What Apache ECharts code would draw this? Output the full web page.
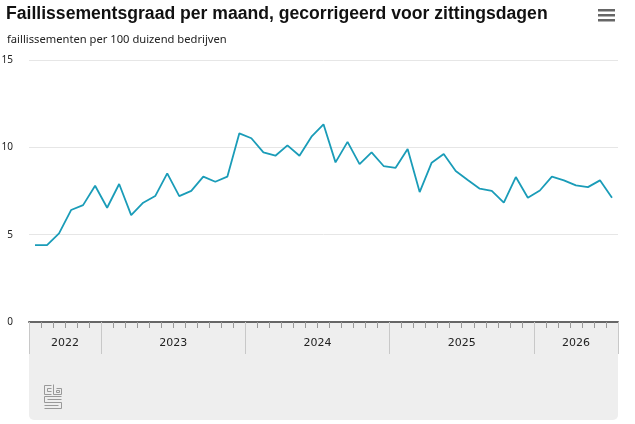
<!DOCTYPE html>
<html>
<head>
	<meta charset="utf-8">
	<title>Faillissementsgraad</title>
	<script src="https://cdn.jsdelivr.net/npm/echarts@6/dist/echarts.min.js"></script>
	<style>
		html, body { margin: 0; padding: 0; background: #fff; }
	</style>
</head>
<body>
	<div id="container" style="width: 635px;height:424px;"></div>
	<script type="text/javascript">

	// maanden jul 2022 t/m jul 2026
	var jaren = ['2022', '2023', '2024', '2025', '2026'];
	var maandenPerJaar = [6, 12, 12, 12, 7];
	var maandNamen = ['jan', 'feb', 'mrt', 'apr', 'mei', 'jun', 'jul', 'aug', 'sep', 'okt', 'nov', 'dec'];
	var graad = [
		4.40, 4.40, 5.07, 6.41, 6.69, 7.80,
		6.54, 7.90, 6.12, 6.83, 7.21, 8.51, 7.21, 7.51, 8.32, 8.03, 8.32, 10.80,
		10.52, 9.71, 9.52, 10.11, 9.52, 10.61, 11.32, 9.14, 10.31, 9.04, 9.71, 8.93,
		8.83, 9.90, 7.44, 9.12, 9.62, 8.64, 8.13, 7.63, 7.51, 6.83, 8.30, 7.11,
		7.53, 8.32, 8.11, 7.82, 7.72, 8.11, 7.11
	];

	var maanden = [];
	var grenzen = [0];
	var midden = [];
	var teller = 0;
	for (var j = 0; j < jaren.length; j++) {
		var start = (j == 0) ? 12 - maandenPerJaar[j] : 0;
		for (var m = 0; m < maandenPerJaar[j]; m++) {
			maanden.push(jaren[j] + ' ' + maandNamen[start + m]);
		}
		midden.push(teller + maandenPerJaar[j] / 2);
		teller += maandenPerJaar[j];
		grenzen.push(teller);
	}

	var myChart = echarts.init(document.getElementById('container'));
	myChart.setOption({
		animation: false,
		title: [
			{
				text: 'Faillissementsgraad per maand, gecorrigeerd voor zittingsdagen',
				left: 1,
				top: 0,
				textStyle: { fontSize: 17.6, fontWeight: 'bold', color: '#111', fontFamily: 'Liberation Sans' }
			},
			{
				text: 'faillissementen per 100 duizend bedrijven',
				left: 2,
				top: 29,
				textStyle: { fontSize: 11.2, fontWeight: 'normal', color: '#222', fontFamily: 'Noto Sans' }
			}
		],
		graphic: [
			{
				type: 'rect', z: -10,
				shape: { x: 29, y: 322, width: 589, height: 98, r: [0, 0, 5, 5] },
				style: { fill: '#eeeeee' }
			},
			{ type: 'rect', shape: { x: 598, y: 9, width: 17, height: 2.5 }, style: { fill: '#666' } },
			{ type: 'rect', shape: { x: 598, y: 14, width: 17, height: 2.5 }, style: { fill: '#666' } },
			{ type: 'rect', shape: { x: 598, y: 19, width: 17, height: 2.5 }, style: { fill: '#666' } },
			// cbs-logo, vereenvoudigd
			{
				type: 'group', left: 42, top: 382,
				children: [
					{ type: 'polyline', shape: { points: [[7, 1], [0, 1], [0, 10], [7, 10]] }, style: { stroke: '#999', fill: null, lineWidth: 1 } },
					{ type: 'polyline', shape: { points: [[7, 4], [3, 4], [3, 7], [7, 7]] }, style: { stroke: '#999', fill: null, lineWidth: 1 } },
					{ type: 'polyline', shape: { points: [[9, 0], [9, 10], [17, 10], [17, 4], [12, 4]] }, style: { stroke: '#999', fill: null, lineWidth: 1 } },
					{ type: 'rect', shape: { x: 12, y: 6, width: 3, height: 2 }, style: { stroke: '#999', fill: null, lineWidth: 1 } },
					{ type: 'polyline', shape: { points: [[17, 12], [0, 12], [0, 18], [17, 18], [17, 24], [0, 24]] }, style: { stroke: '#999', fill: null, lineWidth: 1 } },
					{ type: 'polyline', shape: { points: [[17, 15], [3, 15]] }, style: { stroke: '#999', fill: null, lineWidth: 1 } },
					{ type: 'polyline', shape: { points: [[0, 21], [14, 21]] }, style: { stroke: '#999', fill: null, lineWidth: 1 } }
				]
			}
		],
		grid: { left: 29, right: 17, top: 60, bottom: 102, containLabel: false, outerBoundsMode: 'none' },
		xAxis: [
			{
				type: 'category',
				data: maanden,
				boundaryGap: true,
				axisLine: { lineStyle: { color: '#666', width: 2 } },
				axisTick: { show: true, interval: 0, length: 6, lineStyle: { color: '#999' } },
				axisLabel: { show: false }
			},
			{
				type: 'value',
				position: 'bottom',
				min: 0,
				max: teller,
				splitLine: { show: false },
				axisLine: { show: false },
				axisTick: { show: true, customValues: grenzen, length: 32, lineStyle: { color: '#c8c8c8' } },
				axisLabel: {
					show: true,
					customValues: midden,
					margin: 16,
					fontSize: 11,
					color: '#222',
					fontFamily: 'DejaVu Sans',
					formatter: function (v) {
						var i = midden.indexOf(v);
						return i >= 0 ? jaren[i] : '';
					}
				}
			}
		],
		yAxis: {
			type: 'value',
			min: 0,
			max: 15,
			interval: 5,
			axisLine: { show: false },
			axisTick: { show: false },
			splitLine: { lineStyle: { color: '#e6e6e6', width: 1 } },
			axisLabel: { fontSize: 10, color: '#222', margin: 16, fontFamily: 'Noto Sans' }
		},
		series: [
			{
				type: 'line',
				data: graad,
				xAxisIndex: 0,
				symbol: 'none',
				lineStyle: { color: '#1a9cb8', width: 1.8 },
				itemStyle: { color: '#1a9cb8' }
			}
		]
	});

	</script>
</body>
</html>
